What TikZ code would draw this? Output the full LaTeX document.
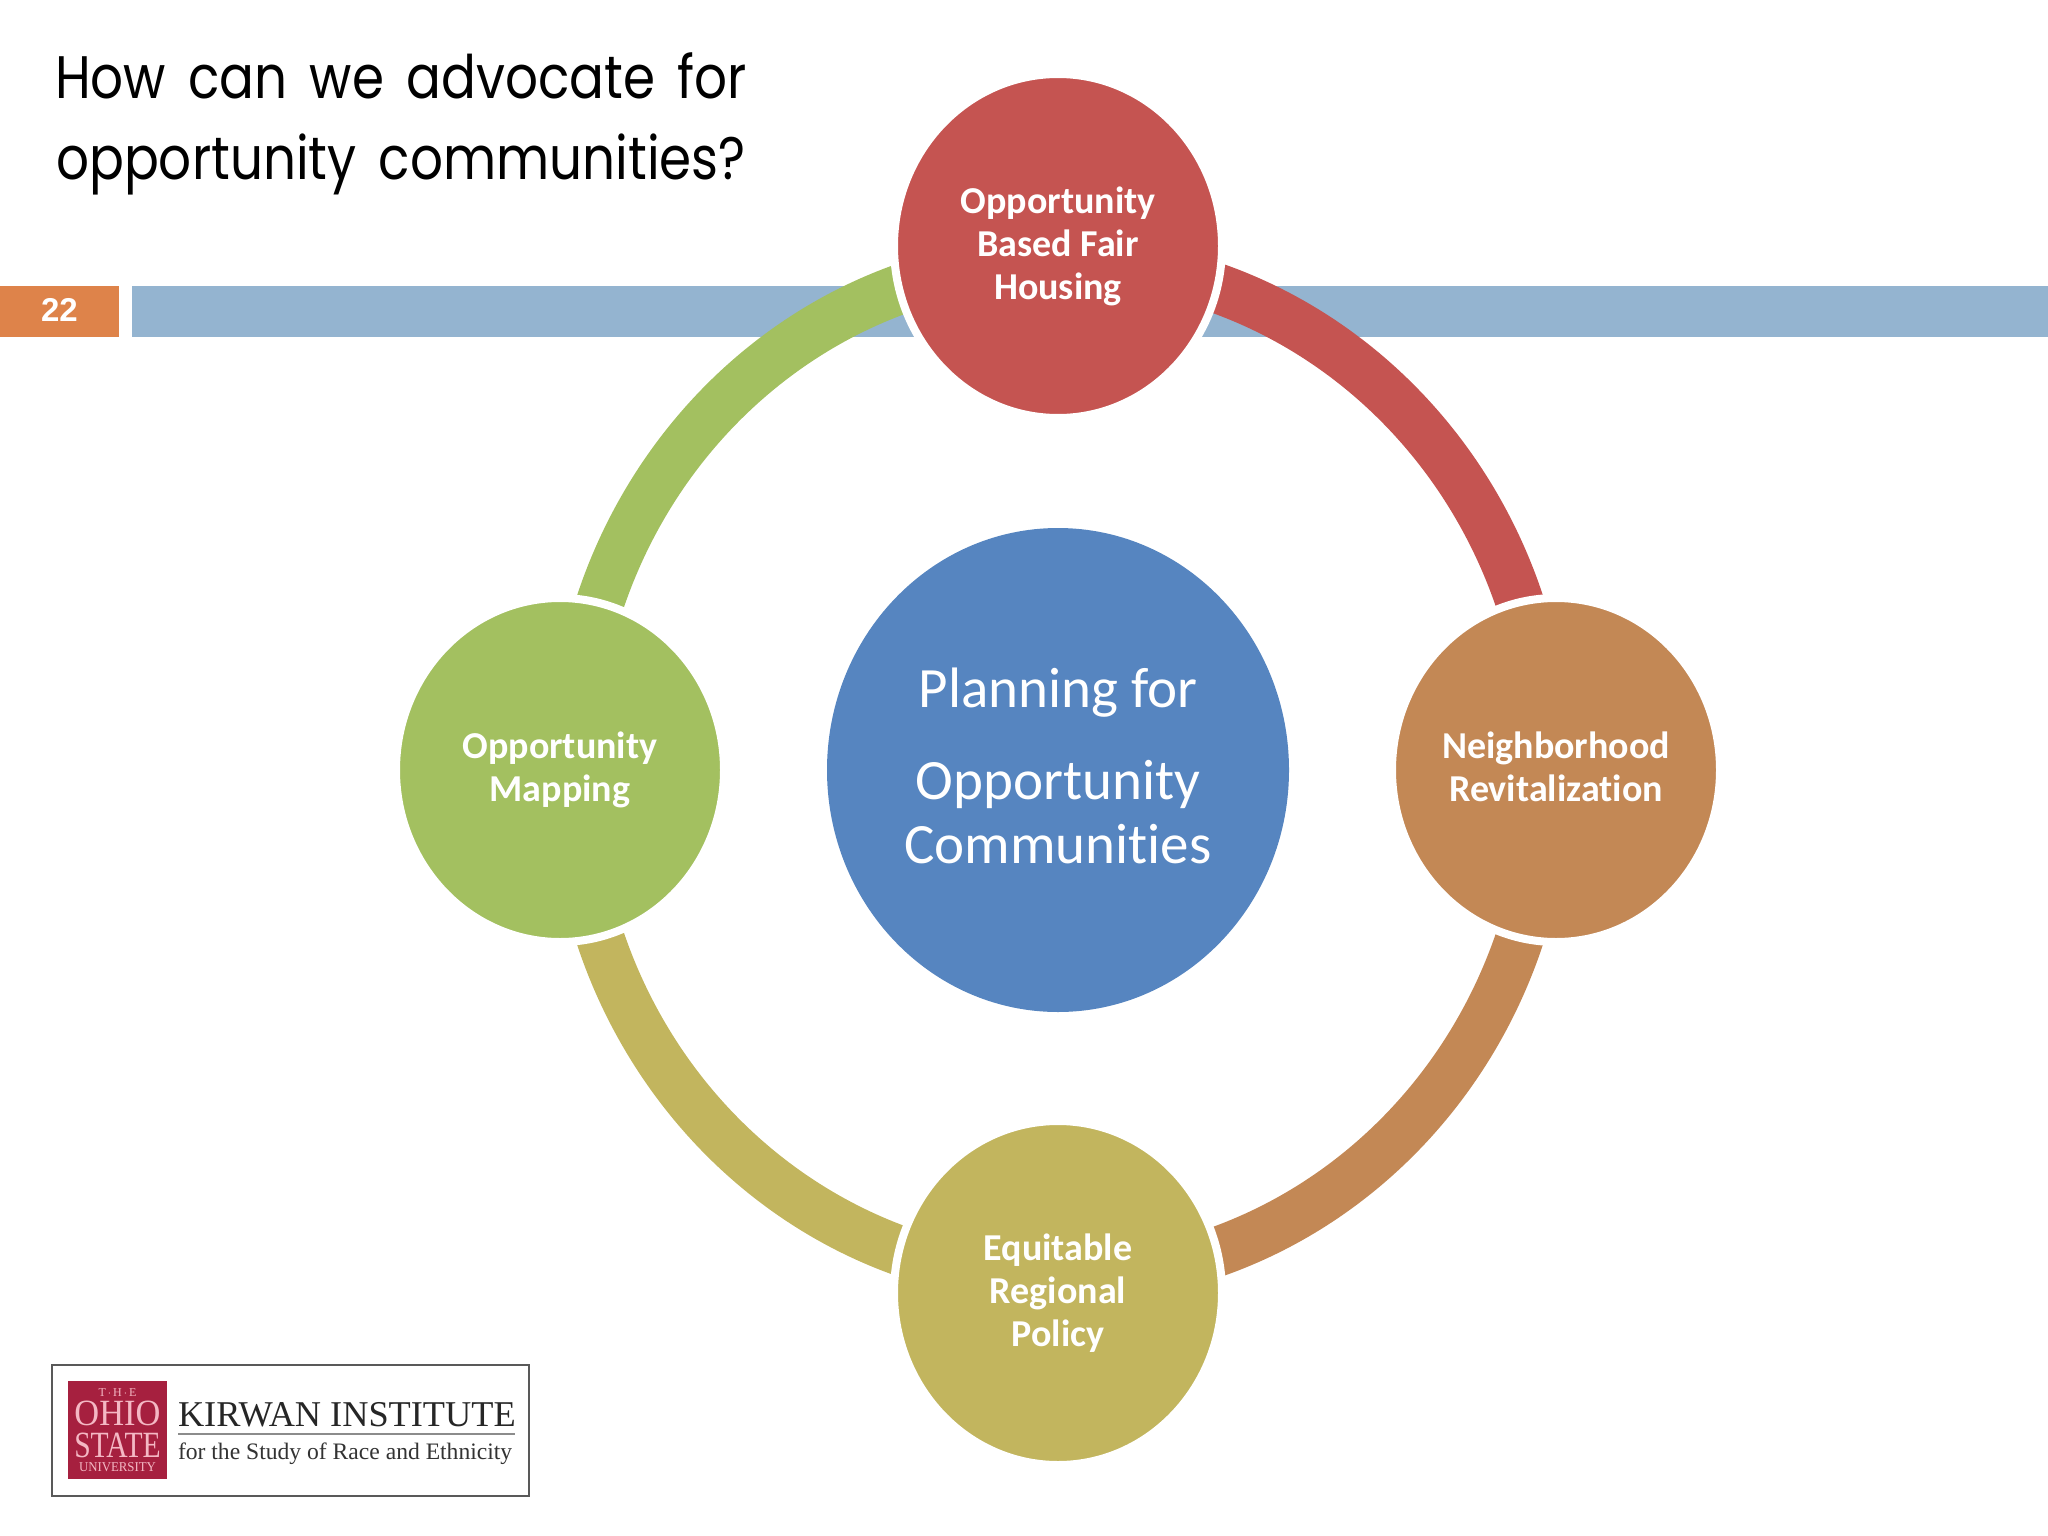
\documentclass[tikz,border=0pt]{standalone}
\usepackage{fontspec}
\setmainfont[Ligatures=NoCommon]{Carlito}
\newfontfamily\titlefont{Poppins}
\newfontfamily\numfont{Liberation Sans}
\newfontfamily\logofont{Liberation Serif}
\usetikzlibrary{shapes.geometric}
\definecolor{cred}{HTML}{C55451}
\definecolor{corange}{HTML}{C38855}
\definecolor{colive}{HTML}{C2B55E}
\definecolor{cgreen}{HTML}{A3C060}
\definecolor{cblue}{HTML}{5685C0}
\definecolor{cbar}{HTML}{94B4D0}
\definecolor{cnum}{HTML}{DE834A}
\definecolor{clogo}{HTML}{A6203F}
\definecolor{cpink}{HTML}{F4B8C4}
\newcommand{\titlesp}{\spaceskip 26pt\relax}
\tikzset{
  x=1pt,y=-1pt,
  sat/.style={ellipse,draw=white,line width=8pt,inner sep=0pt,outer sep=0pt,
    minimum width=328pt,minimum height=344pt,text=white,align=center,
    font=\fontsize{38}{43}\selectfont\bfseries},
  hub/.style={ellipse,fill=cblue,inner sep=0pt,outer sep=0pt,
    minimum width=462pt,minimum height=484pt,text=white,align=center,
    font=\fontsize{57}{64}\selectfont},
  bar/.style={inner sep=0pt,outer sep=0pt,anchor=north west},
  logotxt/.style={inner sep=0pt,outer sep=0pt,font=\logofont},
}
\newcommand{\bandseg}[3]{\fill[#1] ([shift={(#2:511pt and 534pt)}]ringpt) arc[start angle=#2,end angle=#3,x radius=511pt,y radius=534pt]
  -- ([shift={(#3:463pt and 484pt)}]ringpt) arc[start angle=#3,end angle=#2,x radius=463pt,y radius=484pt] -- cycle;}
\begin{document}
\begin{tikzpicture}
\useasboundingbox (0,0) rectangle (2048,1536);
\coordinate (ringpt) at (1060,770);
\node[bar,fill=cnum,minimum width=119pt,minimum height=51pt,text=white] (numbox) at (0,286) {};
\node[inner sep=0pt,text=white,font=\numfont\bfseries\fontsize{33}{33}\selectfont] (num) at (59.5,310) {22};
\node[bar,fill=cbar,minimum width=1916pt,minimum height=51pt] (barbox) at (132,286) {};
\node[inner sep=0pt,align=center,xscale=.86,transform shape,font=\titlefont\fontsize{60}{81}\selectfont\titlesp] (title) at (401,124) {How can we advocate for\\opportunity communities?};
\bandseg{cred}{80}{10}
\bandseg{corange}{-10}{-80}
\bandseg{colive}{-100}{-170}
\bandseg{cgreen}{170}{100}
\node[sat,fill=cred] (top) at (1058,246) {Opportunity\\Based Fair\\Housing};
\node[sat,fill=corange] (right) at (1556,770) {Neighborhood\\Revitalization\vphantom{g}};
\node[sat,fill=colive] (bottom) at (1058,1293) {Equitable\\Regional\\Policy};
\node[sat,fill=cgreen] (left) at (560,770) {Opportunity\\Mapping};
\node[hub] (hub) at (1058,770) {Planning for\\[28pt]Opportunity\\Communities\\[-56pt]\mbox{}};
\node[bar,draw=black!65,line width=1.5pt,fill=white,minimum width=477pt,minimum height=131pt] (logobox) at (52,1365) {};
\node[bar,fill=clogo,minimum width=99pt,minimum height=98pt] (logosq) at (68,1381) {};
\node[logotxt,text=cpink,font=\logofont\fontsize{12}{12}\selectfont] (the) at (117.5,1393) {T\,$\cdot$\,H\,$\cdot$\,E};
\node[logotxt,text=cpink,xscale=.93,transform shape,font=\logofont\fontsize{37}{37}\selectfont] (ohio) at (117.5,1413) {OHIO};
\node[logotxt,text=cpink,xscale=.8,transform shape,font=\logofont\fontsize{37}{37}\selectfont] (state) at (117.5,1445) {STATE};
\node[logotxt,text=cpink,xscale=.95,transform shape,font=\logofont\fontsize{13.5}{13.5}\selectfont] (univ) at (117.5,1467) {UNIVERSITY};
\node[logotxt,anchor=base west,text=black!85,font=\logofont\fontsize{36.3}{36}\selectfont] (kirwan) at (178,1426) {KIRWAN INSTITUTE};
\draw[black!45,line width=1.5pt] (178,1434) -- (515,1434);
\node[logotxt,anchor=base west,text=black!80,font=\logofont\fontsize{23.6}{24}\selectfont] (study) at (178,1459) {for the Study of Race and Ethnicity};
\end{tikzpicture}
\end{document}
